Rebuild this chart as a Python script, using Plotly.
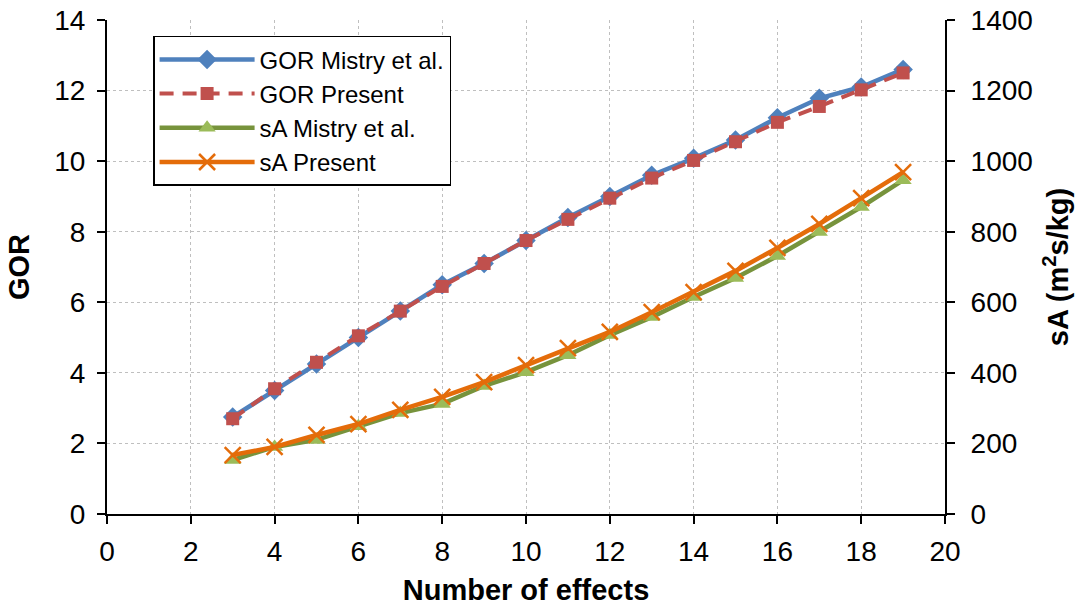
import plotly.graph_objects as go

effects = list(range(3, 20))
gor_mistry = [2.75, 3.5, 4.25, 5.0, 5.75, 6.5, 7.1, 7.75, 8.4, 9.0, 9.6, 10.08, 10.6, 11.23, 11.78, 12.1, 12.6]
gor_present = [2.7, 3.55, 4.3, 5.05, 5.75, 6.45, 7.1, 7.75, 8.35, 8.95, 9.52, 10.02, 10.55, 11.1, 11.55, 12.02, 12.5]
sa_mistry = [153, 190, 210, 249, 286, 312, 363, 402, 450, 507, 558, 615, 669, 731, 799, 870, 946]
sa_present = [167, 190, 224, 255, 295, 332, 374, 422, 470, 516, 572, 629, 689, 754, 822, 895, 969]

x_ticks = list(range(0, 21, 2))
y_ticks = list(range(0, 15, 2))
y2_ticks = list(range(0, 1401, 200))

FONT = "Liberation Sans, Arial, sans-serif"

fig = go.Figure()
fig.add_trace(go.Scatter(x=effects, y=gor_mistry, name="GOR Mistry et al.", mode="lines+markers",
                         line=dict(color="#4F81BD", width=4.5),
                         marker=dict(symbol="diamond", size=15, color="#4F81BD")))
fig.add_trace(go.Scatter(x=effects, y=gor_present, name="GOR Present", mode="lines+markers",
                         line=dict(color="#C0504D", width=4, dash="14px,9px"),
                         marker=dict(symbol="square", size=13, color="#C0504D")))
fig.add_trace(go.Scatter(x=effects, y=sa_mistry, name="sA Mistry et al.", mode="lines+markers", yaxis="y2",
                         line=dict(color="#77933C", width=4.5),
                         marker=dict(symbol="triangle-up", size=15, color="#9BBB59")))
fig.add_trace(go.Scatter(x=effects, y=sa_present, name="sA Present", mode="lines+markers", yaxis="y2",
                         line=dict(color="#E46C0A", width=4.5),
                         marker=dict(symbol="x-thin", size=16, color="#E46C0A",
                                     line=dict(color="#E46C0A", width=2.5))))

axis_common = dict(ticks="outside", ticklen=8, tickwidth=1.5, tickcolor="black",
                   showline=True, linecolor="black", linewidth=2, automargin=False,
                   tickfont=dict(family=FONT, size=28, color="black"),
                   gridcolor="#BFBFBF", griddash="dot", gridwidth=1, zeroline=False)

fig.update_layout(
    width=1086, height=609,
    margin=dict(l=107, r=141, t=20, b=95),
    paper_bgcolor="white", plot_bgcolor="white",
    font=dict(family=FONT, color="black"),
    xaxis=dict(range=[0, 20], tickvals=x_ticks, showgrid=True, ticklabelstandoff=3,
               title=dict(text="<b>Number of effects</b>", font=dict(family=FONT, size=29), standoff=14),
               **axis_common),
    yaxis=dict(range=[0, 14], tickvals=y_ticks, showgrid=True, ticklabelstandoff=6,
               title=dict(text="<b>GOR</b>", font=dict(family=FONT, size=29), standoff=16),
               **axis_common),
    yaxis2=dict(range=[0, 1400], tickvals=y2_ticks, overlaying="y", side="right", showgrid=False,
                ticklabelstandoff=10,
                title=dict(text="<b>sA (m<sup>2</sup>s/kg)</b>", font=dict(family=FONT, size=29), standoff=16),
                **axis_common),
    legend=dict(x=0.055, y=0.968, xanchor="left", yanchor="top",
                bgcolor="white", bordercolor="black", borderwidth=1.5,
                font=dict(family=FONT, size=24, color="black"),
                itemwidth=95, tracegroupgap=0),
    showlegend=True,
)

fig.write_html("out.html")
